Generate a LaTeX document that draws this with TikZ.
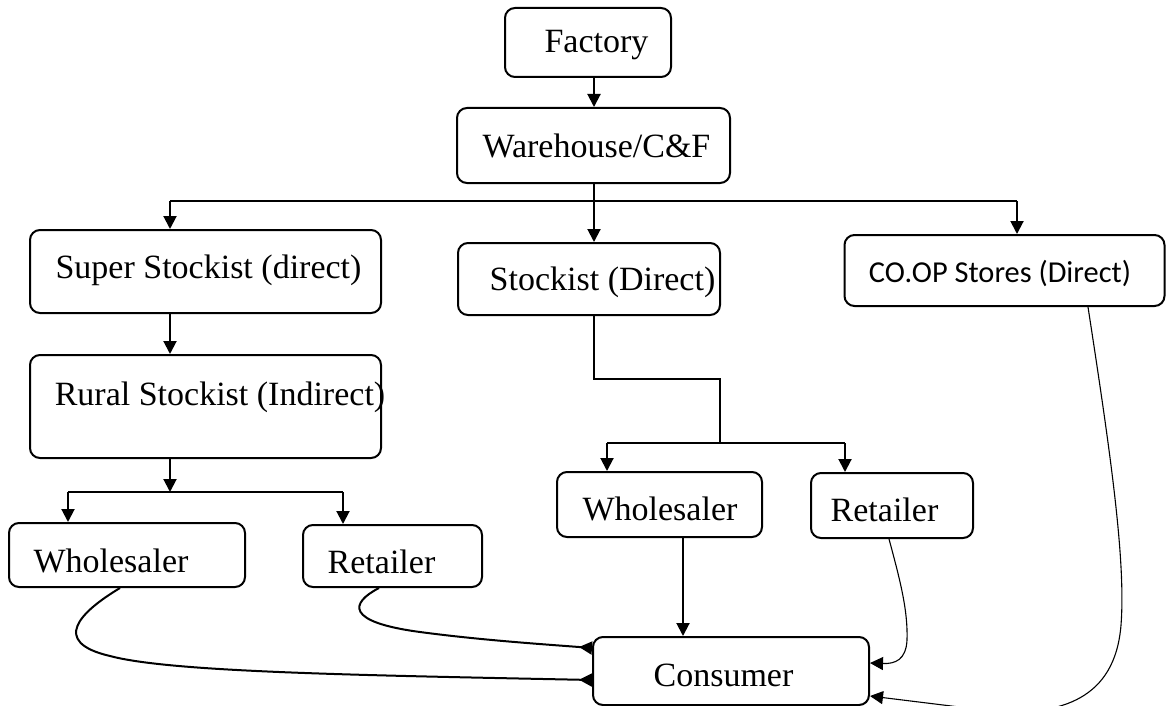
\documentclass[tikz,border=0pt]{standalone}
\usepackage{fontspec}
\setmainfont{Liberation Serif}
\newfontfamily\calibrifont{Carlito}
\usetikzlibrary{arrows.meta,calc}
\begin{document}
\begin{tikzpicture}[x=0.5pt,y=-0.5pt,
  box/.style={draw, rounded corners=5pt, line width=1pt, inner sep=0pt},
  lbl/.style={anchor=base, inner sep=0pt, font=\fontsize{17}{20}\selectfont},
  sanslbl/.style={anchor=base, inner sep=0pt, font=\calibrifont\fontsize{15.2}{18}\selectfont},
  conn/.style={line width=1pt},
  arr/.style={conn, -{Triangle[length=6.5pt,width=6.5pt]}},
  rarr/.style={conn, -{Triangle[reversed,length=6.5pt,width=6.5pt]}},
  thinarr/.style={line width=0.55pt, -{Triangle[length=6.5pt,width=6.5pt]}}]
\useasboundingbox (0,0) rectangle (1166,706);

% boxes
\node[box, minimum width=83pt,   minimum height=34.5pt] (fac)  at (588,42.5)   {};
\node[box, minimum width=136.5pt,minimum height=37.5pt] (wh)   at (593.5,145.5) {};
\node[box, minimum width=175.5pt,minimum height=41.5pt] (ss)   at (205.5,271.5) {};
\node[box, minimum width=175.5pt,minimum height=51.5pt] (rs)   at (205.5,406.5) {};
\node[box, minimum width=131pt,  minimum height=36pt]   (st)   at (589,279)     {};
\node[box, minimum width=160pt,  minimum height=35.5pt] (coop) at (1004.5,270.5) {};
\node[box, minimum width=118pt,  minimum height=32pt]   (wl)   at (127,555)     {};
\node[box, minimum width=89.5pt, minimum height=31pt]   (rl)   at (392.5,556)   {};
\node[box, minimum width=102.5pt,minimum height=32.5pt] (wm)   at (659.5,504.5) {};
\node[box, minimum width=81pt,   minimum height=32.5pt] (rm)   at (892,505.5)   {};
\node[box, minimum width=138pt,  minimum height=34pt]   (cons) at (731,671)     {};

% texts
\node[lbl] (facT)  at (596.5,53)  {Factory};
\node[lbl] (whT)   at (596.5,157) {Warehouse/C\&F};
\node[lbl] (ssT)   at (208.5,278) {Super Stockist (direct)};
\node[lbl] (rsT)   at (220,405)   {Rural Stockist (Indirect)};
\node[lbl] (stT)   at (602.5,290) {Stockist (Direct)};
\node[sanslbl] (coopT) at (1000,282) {CO.OP Stores (Direct)};
\node[lbl] (wlT)   at (111,572)   {Wholesaler};
\node[lbl] (rlT)   at (381.5,573) {Retailer};
\node[lbl] (wmT)   at (660,520)   {Wholesaler};
\node[lbl] (rmT)   at (884.5,521) {Retailer};
\node[lbl] (consT) at (723.5,686) {Consumer};

% junction coordinates
\coordinate (bus)  at (594,201);
\coordinate (busL) at (170,201);
\coordinate (busR) at (1017,201);
\coordinate (j1)   at (170,492);
\coordinate (j1L)  at (68,492);
\coordinate (j1R)  at (343,492);
\coordinate (s1)   at (594,379);
\coordinate (s2)   at (720,379);
\coordinate (j2)   at (720,443);
\coordinate (j2L)  at (607,443);
\coordinate (j2R)  at (845,443);
\coordinate (x683) at (683,600);

% top
\draw[arr] (fac.south -| bus) -- (wh.north -| bus);
\draw[conn] (wh.south -| bus) -- (bus);
\draw[conn] (busL) -- (busR);
\draw[arr] (busL) -- (busL |- ss.north);
\draw[arr] (bus) -- (bus |- st.north);
\draw[arr] (busR) -- (busR |- coop.north);

% left branch
\draw[arr] (busL |- ss.south) -- (busL |- rs.north);
\draw[arr] (j1 |- rs.south) -- (j1);
\draw[conn] (j1L) -- (j1R);
\draw[arr] (j1L) -- (j1L |- wl.north);
\draw[arr] (j1R) -- (j1R |- rl.north);

% middle branch
\draw[line width=0.7pt] (st.south -| s1) -- (s1) -- (s2) -- (j2);
\draw[conn] (j2L) -- (j2R);
\draw[arr] (j2L) -- (j2L |- wm.north);
\draw[arr] (j2R) -- (j2R |- rm.north);
\draw[arr] (wm.south -| x683) -- (cons.north -| x683);

% curves to consumer
\draw[rarr] ($(wl.south)+(-7,0)$) .. controls (80,612) and (50,642) .. (110,656)
  .. controls (170,672) and (350,675) .. ($(cons.west)+(0,9)$);
\draw[rarr] ($(rl.south)+(-13.5,0)$) .. controls (350,603) and (345,622) .. (420,632)
  .. controls (480,640) and (540,644) .. ($(cons.west)+(0,-23)$);
\draw[thinarr] ($(rm.south)+(-3,0)$) .. controls (900,580) and (908,610) .. (907,640)
  .. controls (906,660) and (895,664) .. ($(cons.east)+(0,-8)$);
\draw[thinarr] ($(coop.south)+(83.5,0)$) .. controls (1110,450) and (1126,560) .. (1121,625)
  .. controls (1115,700) and (1060,714) .. (1000,712) -- ($(cons.east)+(0,25)$);
\end{tikzpicture}
\end{document}
